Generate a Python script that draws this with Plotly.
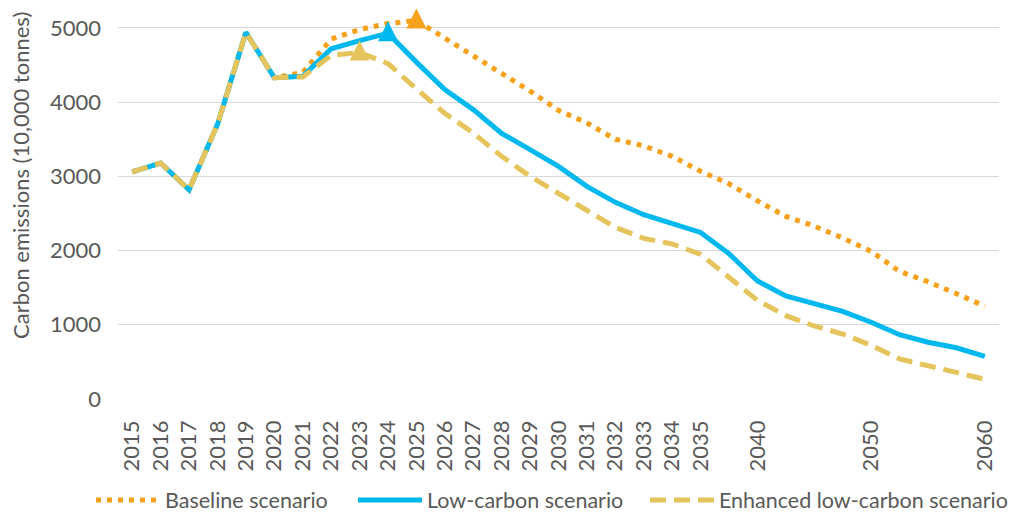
import plotly.graph_objects as go

# Category axis: yearly to 2035, then 2.5-year steps to 2060 (only decades labelled)
year_labels = [
    "2015", "2016", "2017", "2018", "2019", "2020", "2021", "2022", "2023", "2024",
    "2025", "2026", "2027", "2028", "2029", "2030", "2031", "2032", "2033", "2034",
    "2035", "", "2040", "", "", "", "2050", "", "", "", "2060",
]

# Carbon emissions, 10,000 tonnes
baseline = [
    3060, 3180, 2820, 3700, 4940, 4330, 4400, 4850, 4980, 5060,
    5100, 4860, 4620, 4380, 4150, 3890, 3720, 3500, 3410, 3270,
    3070, 2900, 2670, 2460, 2330, 2170, 1990, 1720, 1580, 1420, 1250,
]
low_carbon = [
    3060, 3180, 2820, 3700, 4940, 4330, 4350, 4720, 4830, 4930,
    4540, 4170, 3900, 3580, 3360, 3135, 2865, 2650, 2484, 2372,
    2245, 1958, 1590, 1390, 1285, 1180, 1035, 866, 765, 690, 575,
]
enhanced = [
    3060, 3180, 2820, 3700, 4940, 4330, 4340, 4630, 4670, 4520,
    4180, 3850, 3585, 3270, 3000, 2776, 2551, 2313, 2165, 2089,
    1950, 1644, 1329, 1123, 984, 876, 723, 539, 440, 358, 265,
]

series_names = ["Baseline scenario", "Low-carbon scenario", "Enhanced low-carbon scenario"]

# Peak is searched over the projection period (from 2021 on)
projection_start = year_labels.index("2021")

x_pos = list(range(len(year_labels)))

FONT = "Lato"
FS = 22
TEXT = "#595959"
styles = [
    dict(color="#F7A11C", width=5, dash="5px,6px"),
    dict(color="#00B8F0", width=5, dash="solid"),
    dict(color="#E6C45C", width=5, dash="16px,8px"),
]
legend_ids = ["legend", "legend2", "legend3"]

fig = go.Figure()
for name, vals, st, lg in zip(series_names, [baseline, low_carbon, enhanced], styles, legend_ids):
    fig.add_trace(go.Scatter(
        x=x_pos, y=vals, name=name, mode="lines", legend=lg,
        line=dict(color=st["color"], width=st["width"], dash=st["dash"]),
        cliponaxis=False,
    ))

# Peak of each scenario marked with a tall upward triangle around the point
# (arrow-down turned 180 degrees, pushed up by the standoff)
for name, vals, st in zip(series_names, [baseline, low_carbon, enhanced], styles):
    i = max(range(projection_start, len(vals)), key=lambda k: vals[k])
    fig.add_trace(go.Scatter(
        x=[x_pos[i]], y=[vals[i]], mode="markers", showlegend=False,
        marker=dict(symbol="arrow-down", angle=180, size=20, standoff=12,
                    color=st["color"], line=dict(width=0)),
        cliponaxis=False, hoverinfo="skip",
    ))

W, H = 1019, 513
Y_MAX = 5350
L, R, T, B = 118, 20, 2, 114
pw, ph = W - L - R, H - T - B


def legend_at(left_px):
    return dict(
        orientation="h", xanchor="left", yanchor="middle",
        x=(left_px - L) / pw, y=(H - B - 500) / ph,
        itemwidth=64, font=dict(size=21.5, color=TEXT),
        bgcolor="rgba(0,0,0,0)", borderwidth=0,
    )


fig.update_layout(
    width=W, height=H,
    margin=dict(l=L, r=R, t=T, b=B, autoexpand=False),
    paper_bgcolor="white", plot_bgcolor="white",
    font=dict(family=FONT, size=FS, color=TEXT),
    showlegend=True,
    legend=legend_at(91),
    legend2=legend_at(353),
    legend3=legend_at(645),
    xaxis=dict(
        range=[-0.5, len(x_pos) - 0.5],
        tickmode="array", tickvals=x_pos, ticktext=year_labels,
        tickangle=-90, showgrid=False, zeroline=False,
        showline=False, ticks="", ticklabelstandoff=16,
        tickfont=dict(size=FS, color=TEXT),
    ),
    yaxis=dict(
        range=[0, Y_MAX], tickmode="array",
        tickvals=[0, 1000, 2000, 3000, 4000, 5000],
        showgrid=True, gridcolor="#D9D9D9", gridwidth=1.3,
        zeroline=False, showline=False, ticks="", ticklabelstandoff=16,
        tickfont=dict(size=FS, color=TEXT),
    ),
    annotations=[dict(
        text="Carbon emissions (10,000 tonnes)", textangle=-90,
        xref="paper", yref="paper",
        x=(21 - L) / pw, y=(H - B - 176) / ph,
        xanchor="center", yanchor="middle", showarrow=False,
        font=dict(size=FS, color=TEXT, family=FONT),
    )],
)

fig.write_html("out.html")
